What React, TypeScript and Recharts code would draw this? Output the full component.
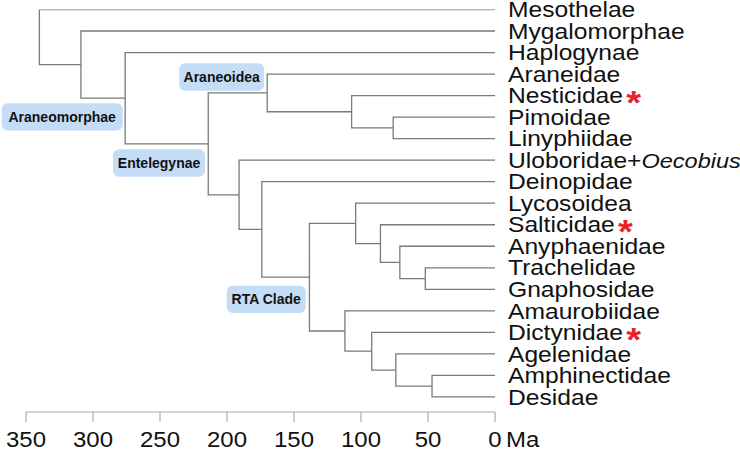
import { LineChart, Line, XAxis, YAxis, ReferenceDot } from 'recharts'

// leaves, top to bottom
const taxa = [
  'Mesothelae',
  'Mygalomorphae',
  'Haplogynae',
  'Araneidae',
  'Nesticidae',
  'Pimoidae',
  'Linyphiidae',
  'Uloboridae+Oecobius',
  'Deinopidae',
  'Lycosoidea',
  'Salticidae',
  'Anyphaenidae',
  'Trachelidae',
  'Gnaphosidae',
  'Amaurobiidae',
  'Dictynidae',
  'Agelenidae',
  'Amphinectidae',
  'Desidae',
]
const starred = ['Nesticidae', 'Salticidae', 'Dictynidae']

// internal nodes: id, age (Ma), two children
const nodeIds = ['root', 'opis', 'araneo', 'entel', 'araneoidea', 'nest', 'pimLiny', 'n191', 'n174', 'rta', 'lyco', 'salt', 'anyph', 'trachGnaph', 'amaur', 'dict', 'agel', 'amphDes']
const nodeAges = [340, 309, 276, 214, 170, 107, 76, 191, 174, 138.5, 104, 85.5, 71, 52, 112, 92, 74, 47]
const nodeKids = [
  ['Mesothelae', 'opis'],
  ['Mygalomorphae', 'araneo'],
  ['Haplogynae', 'entel'],
  ['araneoidea', 'n191'],
  ['Araneidae', 'nest'],
  ['Nesticidae', 'pimLiny'],
  ['Pimoidae', 'Linyphiidae'],
  ['Uloboridae+Oecobius', 'n174'],
  ['Deinopidae', 'rta'],
  ['lyco', 'amaur'],
  ['Lycosoidea', 'salt'],
  ['Salticidae', 'anyph'],
  ['Anyphaenidae', 'trachGnaph'],
  ['Trachelidae', 'Gnaphosidae'],
  ['Amaurobiidae', 'dict'],
  ['Dictynidae', 'agel'],
  ['Agelenidae', 'amphDes'],
  ['Amphinectidae', 'Desidae'],
]

const cladeNames = ['Araneomorphae', 'Araneoidea', 'Entelegynae', 'RTA Clade']
const cladeNodes = ['araneo', 'araneoidea', 'entel', 'rta']

const xTicks = [350, 300, 250, 200, 150, 100, 50, 0]

// box placement relative to the node (px): right edge, top, width
const boxLayout: Record<string, { dx: number; dy: number; w: number }> = {
  Araneomorphae: { dx: -2.5, dy: 5, w: 121 },
  Araneoidea: { dx: -3, dy: -29.6, w: 85 },
  Entelegynae: { dx: -3.2, dy: 5.4, w: 92 },
  'RTA Clade': { dx: -3.7, dy: 8.5, w: 79 },
}

const FONT = '"Liberation Sans", Arial, Helvetica, sans-serif'
const BRANCH = '#7a7a7a'
const AXIS = '#aaaaaa'

function ageOf(id: string) {
  const i = nodeIds.indexOf(id)
  return i < 0 ? 0 : nodeAges[i]
}

function rowOf(id: string): number {
  const i = nodeIds.indexOf(id)
  if (i < 0) return taxa.indexOf(id)
  const [a, b] = nodeKids[i]
  return (rowOf(a) + rowOf(b)) / 2
}

const brackets = nodeIds.map((id, i) => {
  const [a, b] = nodeKids[i]
  const age = nodeAges[i]
  return [
    { age: ageOf(a), y: rowOf(a) },
    { age, y: rowOf(a) },
    { age, y: rowOf(b) },
    { age: ageOf(b), y: rowOf(b) },
  ]
})

function LeafTick(props: any) {
  const { x, y, payload } = props
  const name = taxa[payload.value]
  if (!name) return null
  const [main, genus] = name.split('+')
  const star = starred.includes(name)
  return (
    <text
      transform={`translate(${x},${y + 7.7}) scale(1.12,1)`}
      fontFamily={FONT}
      fontSize={22}
      fill="#111"
    >
      {main}
      {genus && <tspan>+</tspan>}
      {genus && <tspan fontStyle="italic" fontSize={21}>{genus}</tspan>}
      {star && (
        <tspan dx={3} dy={10.5} fontSize={34} fontWeight="bold" fill="#e8232b">*</tspan>
      )}
    </text>
  )
}

function AgeTick(props: any) {
  const { x, y, payload } = props
  return (
    <g>
      <text
        transform={`translate(${x},${y + 24.5}) scale(1.09,1)`}
        textAnchor="middle"
        fontFamily={FONT}
        fontSize={22}
        fill="#111"
      >
        {payload.value}
      </text>
      {payload.value === 0 && (
        <text transform={`translate(${x + 11},${y + 24.5}) scale(1.09,1)`} fontFamily={FONT} fontSize={22} fill="#111">
          Ma
        </text>
      )}
    </g>
  )
}

function cladeShape(name: string) {
  const lay = boxLayout[name]
  return (p: any) => {
    const left = p.cx + lay.dx - lay.w
    const top = p.cy + lay.dy
    return (
      <g>
        <rect x={left} y={top} width={lay.w} height={27.4} rx={6} ry={6} fill="#c4dcf6" />
        <text
          x={left + lay.w / 2}
          y={top + 18.5}
          textAnchor="middle"
          fontFamily={FONT}
          fontSize={14}
          fontWeight="bold"
          fill="#111"
        >
          {name}
        </text>
      </g>
    )
  }
}

export default function App() {
  return (
    <div style={{ width: 740, height: 453 }}>
      <style>{'body{margin:0}'}</style>
      <LineChart width={740} height={453} margin={{ top: 9.5, right: 0, bottom: 0, left: 26 }}>
        <XAxis
          dataKey="age"
          type="number"
          domain={[0, 350]}
          reversed
          ticks={xTicks}
          interval={0}
          height={41}
          tickSize={10}
          tickMargin={0}
          axisLine={{ stroke: AXIS, strokeWidth: 1.2 }}
          tickLine={{ stroke: AXIS, strokeWidth: 1.2 }}
          tick={<AgeTick />}
          allowDataOverflow
        />
        <YAxis
          type="number"
          orientation="right"
          domain={[0, 18.7]}
          reversed
          ticks={taxa.map((_, i) => i)}
          interval={0}
          width={245}
          tickSize={0}
          tickMargin={13}
          axisLine={false}
          tickLine={false}
          tick={<LeafTick />}
          allowDataOverflow
        />
        {brackets.map((pts, i) => (
          <Line
            key={nodeIds[i]}
            data={pts}
            dataKey="y"
            type="linear"
            stroke={BRANCH}
            strokeWidth={1.3}
            dot={false}
            activeDot={false}
            isAnimationActive={false}
          />
        ))}
        {cladeNames.map((name, i) => (
          <ReferenceDot
            key={name}
            x={ageOf(cladeNodes[i])}
            y={rowOf(cladeNodes[i])}
            r={0}
            shape={cladeShape(name)}
          />
        ))}
      </LineChart>
    </div>
  )
}
